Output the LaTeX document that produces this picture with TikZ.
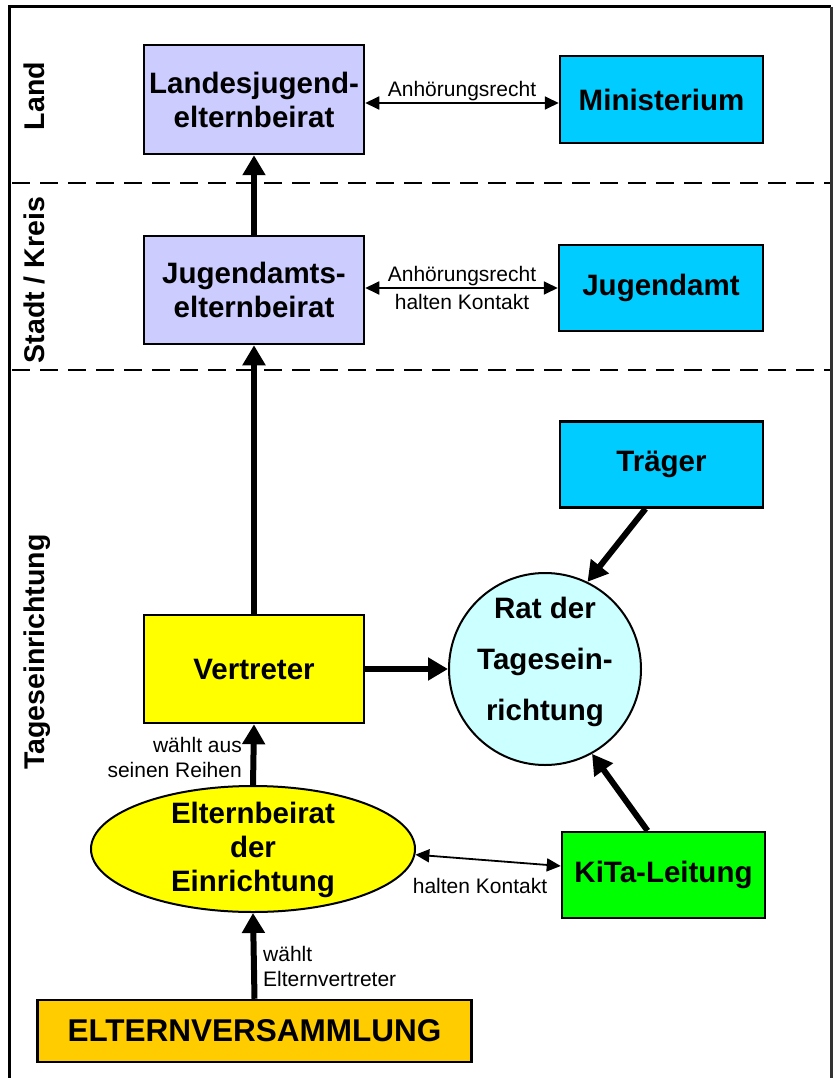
\documentclass[tikz,border=0pt]{standalone}
\usepackage{fontspec}
\setmainfont{Liberation Sans}
\usetikzlibrary{arrows.meta,shapes.geometric,calc}
\definecolor{lav}{HTML}{CCCCFF}
\definecolor{cy}{HTML}{00CCFF}
\definecolor{yel}{HTML}{FFFF00}
\definecolor{lcy}{HTML}{CCFFFF}
\definecolor{grn}{HTML}{00FF00}
\definecolor{org}{HTML}{FFCC00}
\begin{document}
\begin{tikzpicture}[x=1pt,y=-1pt,
  box/.style={draw=black,line width=2.5pt,rectangle,align=center,inner sep=0pt,
    font=\bfseries\fontsize{29.5}{34}\selectfont},
  bold/.style={align=center,inner sep=0pt,font=\bfseries\fontsize{29.5}{34}\selectfont},
  thickarrow/.style={line width=6pt,-{Triangle[length=20pt,width=22pt]}},
  thinarrow/.style={line width=1.8pt,{Triangle[length=14pt,width=13pt]}-{Triangle[length=14pt,width=13pt]}},
  lbl/.style={font=\fontsize{21}{25}\selectfont,inner sep=0pt},
  side/.style={font=\bfseries\fontsize{28.5}{32}\selectfont,rotate=90,anchor=base,inner sep=0pt},
  sep/.style={line width=2.5pt,dash pattern=on 18pt off 10pt}
]
\useasboundingbox (0,0) rectangle (833,1078);
% frame
\draw[line width=3pt] (9,1078) -- (9,7) -- (831,7);
\draw[line width=2.5pt,black!80] (831.5,7) -- (831.5,1078);
% separators
\draw[sep] (12,183) -- (830,183);
\draw[sep] (12,370) -- (830,370);
% side labels
\node[side] (sLand) at (44,96) {Land};
\node[side] (sStadt) at (44,280) {Stadt / Kreis};
\node[side] (sTag) at (44,652) {Tageseinrichtung};
% boxes
\node[box,fill=lav,minimum width=220pt,minimum height=109pt] (lj) at (254,99.5) {Landesjugend-\\elternbeirat};
\node[box,fill=cy,minimum width=203pt,minimum height=87pt] (mi) at (661.5,99.5) {Ministerium};
\node[box,fill=lav,minimum width=220pt,minimum height=108pt] (ja) at (254,290) {Jugendamts-\\elternbeirat};
\node[box,fill=cy,minimum width=204pt,minimum height=86pt] (jm) at (661,288) {Jugendamt};
\node[box,fill=cy,minimum width=203pt,minimum height=86pt] (tr) at (661.5,464.5) {Träger};
\node[box,fill=yel,minimum width=220pt,minimum height=108pt] (vt) at (254,669) {Vertreter};
\node[box,fill=grn,minimum width=203pt,minimum height=86pt] (kl) at (663.5,875) {KiTa-Leitung};
\node[box,fill=org,minimum width=434pt,minimum height=62pt,font=\bfseries\fontsize{31.5}{36}\selectfont] (ev) at (254.5,1031) {ELTERNVERSAMMLUNG};
% circle and ellipse
\node[circle,draw=black,line width=2pt,fill=lcy,minimum size=192pt,inner sep=0pt] (rat) at (545,669) {};
\node[bold,font=\bfseries\fontsize{29.5}{51}\selectfont] (ratt) at (545,662) {Rat der\\Tagesein-\\richtung};
\node[ellipse,draw=black,line width=2pt,fill=yel,minimum width=324pt,minimum height=126pt,inner sep=0pt] (eb) at (253,849) {};
\node[bold] (ebt) at (253,850) {Elternbeirat\\der\\Einrichtung};
% top connectors
\draw[thinarrow] ([yshift=-3.5pt]lj.east) -- ([yshift=-3.5pt]mi.west);
\node[lbl,anchor=base] (l1) at (462,97) {Anhörungsrecht};
\draw[thinarrow] (ja.east|-jm.west) -- (jm.west);
\node[lbl,anchor=base] (l2) at (462,281) {Anhörungsrecht};
\node[lbl,anchor=base] (l3) at (462,309) {halten Kontakt};
\draw[thickarrow] (ja.north) -- (lj.south);
\draw[thickarrow] (vt.north) -- (ja.south);
\draw[thickarrow] (vt.east) -- (rat.west);
\draw[thickarrow] ([xshift=-16pt]tr.south) -- (rat.64);
\draw[thickarrow] ([xshift=-16pt]kl.north) -- (rat.-61);
\draw[thickarrow] (eb.north) -- (vt.south);
\draw[thickarrow] (ev.north) -- (eb.south);
\draw[thinarrow] (eb.-2.5) -- ([yshift=9pt]kl.west);
\node[lbl,anchor=base] (l4) at (480,893) {halten Kontakt};
\node[lbl,anchor=base east,align=right] (l5) at (242,777) {wählt aus\\seinen Reihen};
\node[lbl,align=left,anchor=north west] (l6) at (263,946) {wählt\\Elternvertreter};
\end{tikzpicture}
\end{document}
